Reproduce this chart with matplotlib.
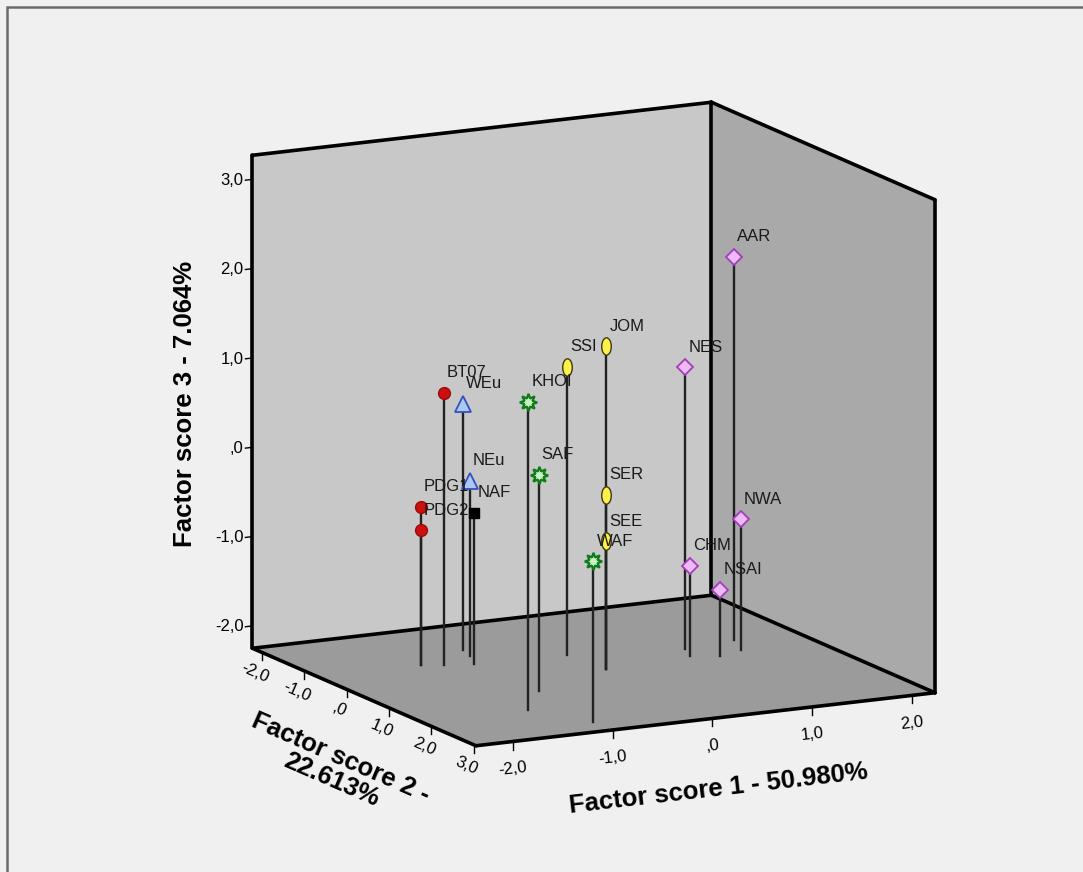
import matplotlib
matplotlib.use("Agg")
import matplotlib.pyplot as plt
import numpy as np
from matplotlib.path import Path
from matplotlib.patches import Rectangle
from matplotlib.transforms import Affine2D
from mpl_toolkits.mplot3d import proj3d
from mpl_toolkits.mplot3d.art3d import Poly3DCollection

plt.rcParams['font.family'] = ['Liberation Sans', 'DejaVu Sans']

# factor scores of each population
names = ['PDG1', 'PDG2', 'BT07', 'WEu', 'NEu', 'NAF', 'KHOI', 'SAF', 'WAF',
         'SSI', 'JOM', 'SER', 'SEE', 'NES', 'CHM', 'NSAI', 'AAR', 'NWA']
score1 = [-1.34, -1.34, -1.16, -0.74, -0.79, -0.90, -1.31, -0.88, -1.01,
          0.00, 0.06, 0.06, 0.06, 1.05, 0.96, 1.20, 1.60, 1.47]
score2 = [-0.67, -0.67, -0.56, -1.10, -0.81, -0.45, 1.79, 1.02, 2.62,
          -0.38, 0.41, 0.41, 0.41, -0.06, 0.27, 0.41, -0.20, 0.26]
score3 = [-0.48, -0.74, 0.80, 0.51, -0.29, -0.56, 1.20, 0.17, -0.45,
          0.98, 1.36, -0.30, -0.82, 0.90, -1.24, -1.51, 2.04, -0.79]
groups = ['pdg', 'pdg', 'pdg', 'eu', 'eu', 'naf', 'khoisan', 'khoisan', 'khoisan',
          'semitic', 'semitic', 'semitic', 'semitic',
          'ethiopia', 'ethiopia', 'ethiopia', 'ethiopia', 'ethiopia']

x_lim = (-2.37, 2.23)
y_lim = (-2.22, 3.05)
z_lim = (-2.25, 3.27)
x_ticks = [-2, -1, 0, 1, 2]
x_tick_labels = ['-2,0', '-1,0', ',0', '1,0', '2,0']
y_ticks = [-2, -1, 0, 1, 2, 3]
y_tick_labels = ['-2,0', '-1,0', ',0', '1,0', '2,0', '3,0']
z_ticks = [-2, -1, 0, 1, 2, 3]
z_tick_labels = ['-2,0', '-1,0', ',0', '1,0', '2,0', '3,0']

oval = Path.unit_circle().transformed(Affine2D().scale(0.55, 1.0))
styles = {
    'pdg': dict(marker='o', ms=8.5, mfc='#cc1010', mec='#9a0a0a', mew=1),
    'eu': dict(marker='^', ms=11.5, mfc='#a9c9f2', mec='#3550c0', mew=1.3),
    'naf': dict(marker='s', ms=7.5, mfc='#000000', mec='#000000', mew=1),
    'khoisan': dict(marker=(8, 1, 0), ms=12.5, mfc='#c8f0c0', mec='#0f7a1a', mew=1.6),
    'semitic': dict(marker=oval, ms=12.5, mfc='#fff04a', mec='#3a3a10', mew=1),
    'ethiopia': dict(marker='D', ms=8, mfc='#efb8f6', mec='#a040b8', mew=1.3),
}

fig = plt.figure(figsize=(10.83, 8.72), dpi=100, facecolor='#f0f0f0')
ax = fig.add_axes([0.14663, 0.01502, 0.78199, 0.97122], projection='3d',
                  computed_zorder=False)
ax.set_proj_type('ortho')
ax.set_box_aspect((516.2, 488.5, 505.9))
ax.view_init(elev=12.97, azim=-117.23)
ax.set_xlim(*x_lim)
ax.set_ylim(y_lim[1], y_lim[0])
ax.set_zlim(*z_lim)
ax.set_axis_off()
ax.patch.set_alpha(0)

x0, x1 = x_lim
yb, yf = y_lim
z0, z1 = z_lim
M = ax.get_proj()


def put_text(x, y, z, s, along=None, **kw):
    # place a 2D text at a 3D point, optionally turned along an axis direction
    px, py, _ = proj3d.proj_transform(x, y, z, M)
    rot = 0.0
    if along is not None:
        qx, qy, _ = proj3d.proj_transform(x + along[0], y + along[1], z + along[2], M)
        rot = np.degrees(np.arctan2(qy - py, qx - px))
        if rot > 90:
            rot -= 180
        elif rot <= -90:
            rot += 180
    return ax.annotate(s, (px, py), xycoords='data', rotation=rot,
                       annotation_clip=False, zorder=5, **kw)


# walls and floor
back = [(x0, yb, z0), (x1, yb, z0), (x1, yb, z1), (x0, yb, z1)]
right = [(x1, yb, z0), (x1, yf, z0), (x1, yf, z1), (x1, yb, z1)]
floor = [(x0, yb, z0), (x1, yb, z0), (x1, yf, z0), (x0, yf, z0)]
for verts, col in [(back, '#c8c8c8'), (right, '#a9a9a9'), (floor, '#9b9b9b')]:
    pc = Poly3DCollection([verts], facecolors=col, edgecolors='none', zorder=1)
    ax.add_collection3d(pc)

edges = [
    ((x0, x0), (yb, yb), (z0, z1)),
    ((x0, x1), (yb, yb), (z1, z1)),
    ((x1, x1), (yb, yb), (z0, z1)),
    ((x1, x1), (yb, yf), (z1, z1)),
    ((x1, x1), (yf, yf), (z0, z1)),
    ((x0, x1), (yb, yb), (z0, z0)),
    ((x1, x1), (yb, yf), (z0, z0)),
    ((x0, x1), (yf, yf), (z0, z0)),
    ((x0, x0), (yb, yf), (z0, z0)),
]
for ex, ey, ez in edges:
    ax.plot(ex, ey, ez, color='black', lw=2.6, solid_capstyle='round', zorder=2)

# ticks and tick labels
for t, lab in zip(z_ticks, z_tick_labels):
    ax.plot([x0, x0 - 0.07], [yb, yb], [t, t], color='black', lw=1, zorder=2)
    put_text(x0 - 0.09, yb, t, lab, ha='right', va='center', fontsize=12)
for t, lab in zip(x_ticks, x_tick_labels):
    ax.plot([t, t], [yf, yf], [z0, z0 - 0.09], color='black', lw=1, zorder=2)
    put_text(t, yf, z0 - 0.31, lab, along=(1, 0, 0), ha='center', va='center',
             fontsize=12)
for t, lab in zip(y_ticks, y_tick_labels):
    ax.plot([x0, x0], [t, t], [z0, z0 - 0.09], color='black', lw=1, zorder=2)
    put_text(x0 - 0.07, t, z0 - 0.22, lab, along=(0, 1, 0), ha='center',
             va='center', fontsize=12)

# axis titles
put_text(x0 - 0.68, yb, 0.57, 'Factor score 3 - 7.064%', along=(0, 0, 1),
         ha='center', va='center', fontsize=18.5, fontweight='bold')
put_text(0.06, yf, z0 - 0.8, 'Factor score 1 - 50.980%', along=(1, 0, 0),
         ha='center', va='center', fontsize=18.5, fontweight='bold')
put_text(x0, -0.25, z0 - 0.94, 'Factor score 2 -\n22.613%', along=(0, 1, 0),
         ha='center', va='center', multialignment='center', linespacing=1.0,
         fontsize=18.5, fontweight='bold')

# drop lines, markers and point labels
for name, a, b, c, g in zip(names, score1, score2, score3, groups):
    ax.plot([a, a], [b, b], [c, z0], color='#222222', lw=1.7, zorder=3)
    ax.plot([a], [b], [c], linestyle='none', zorder=4, **styles[g])
    px, py, _ = proj3d.proj_transform(a, b, c, M)
    ax.annotate(name, (px, py), xytext=(2.2, 11.3), textcoords='offset points',
                ha='left', va='baseline', fontsize=12, color='#1a1a1a',
                annotation_clip=False, zorder=5)

fig.add_artist(Rectangle((7 / 1083, -0.1), 1.2, 1.1 - 7 / 872, transform=fig.transFigure,
                         fill=False, edgecolor='#6a6a6a', lw=1.8))

fig.savefig('out.png', dpi=100, facecolor=fig.get_facecolor())
